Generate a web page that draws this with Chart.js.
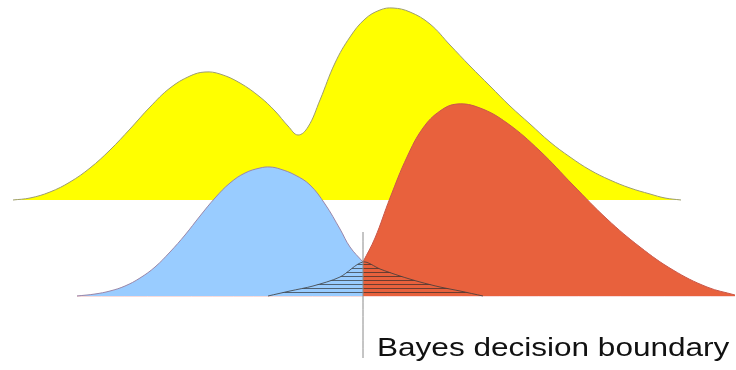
<!DOCTYPE html>
<html>
<head>
<meta charset="UTF-8">
<title>Bayes decision boundary</title>
<script src="https://cdn.jsdelivr.net/npm/chart.js"></script>
<style>
  body { margin: 0; background: #fff; }
  #wrap { position: relative; width: 736px; height: 370px; }
  #label {
    position: absolute; left: 377px; top: 334px;
    font-family: "Liberation Sans", Arial, sans-serif;
    font-size: 26.5px; color: #111; white-space: nowrap; line-height: 1;
    transform: scaleX(1.19); transform-origin: 0 0;
  }
</style>
</head>
<body>
<div id="wrap">
  <canvas id="chart" width="736" height="370"></canvas>
  <div id="label">Bayes decision boundary</div>
</div>
<script>
// total density (top curve), heights above its own baseline
const totalX = [13, 30, 50, 70, 90, 110, 130, 150, 170, 190, 205, 220, 240, 260, 275, 288, 298, 308, 320, 335, 350, 365, 380, 393, 410, 430, 450, 470, 490, 510, 530, 550, 570, 590, 610, 630, 650, 665, 681];
const totalY = [0, 2, 8, 18, 32, 50, 71, 93, 112, 124, 128, 126, 117, 103, 89, 74, 65, 73, 100, 137, 163, 181, 190, 192, 188, 176, 155, 134, 114, 94, 76, 58, 43, 30, 20, 12, 6, 2, 0];

// class A (blue), including the tail under class B
const blueX = [77, 95, 110, 125, 140, 155, 170, 185, 200, 215, 230, 245, 260, 270, 280, 295, 310, 325, 340, 350, 363, 380, 400, 420, 440, 460, 483];
const blueY = [0, 2, 5, 10, 18, 29, 44, 61, 80, 98, 113, 123, 128, 129, 127, 121, 111, 92, 67, 49, 34, 27, 20, 14, 9, 5, 0];

// class B (red), including the tail under class A
const redX = [268, 290, 313, 340, 363, 375, 390, 407, 423, 440, 457, 480, 507, 540, 573, 607, 640, 673, 707, 735];
const redY = [0, 5, 10, 19, 34, 58, 98, 139, 168, 185, 192, 188, 173, 145, 111, 77, 49, 26, 9, 1];

const boundaryX = 363;
const boundaryY = [64, -62];

const topBase = 96;

const pts = (xs, ys, off = 0) => xs.map((x, i) => ({ x: x, y: ys[i] + off }));
const blue = pts(blueX, blueY);
const red = pts(redX, redY);
const blueShown = blue.filter(p => p.x <= boundaryX);
const redShown = red.filter(p => p.x >= boundaryX);
const overlap = red.filter(p => p.x < boundaryX).concat(blue.filter(p => p.x >= boundaryX));

// horizontal hatch for the error area
const tile = document.createElement('canvas');
tile.width = 8; tile.height = 4;
const tctx = tile.getContext('2d');
tctx.fillStyle = 'rgba(40,40,40,0.65)';
tctx.fillRect(0, 0, 8, 1);
const hatch = document.getElementById('chart').getContext('2d').createPattern(tile, 'repeat');

new Chart(document.getElementById('chart'), {
  type: 'line',
  data: {
    datasets: [
      {
        order: 0,
        data: boundaryY.map(y => ({ x: boundaryX, y: y })),
        borderColor: '#8a8a8a', borderWidth: 1, fill: false
      },
      {
        order: 1,
        data: overlap,
        borderColor: 'rgba(60,60,60,0.8)', borderWidth: 1,
        backgroundColor: hatch, fill: 'origin', tension: 0.3
      },
      {
        order: 2,
        data: redShown,
        borderColor: '#c9574a', borderWidth: 1,
        backgroundColor: '#e8613d', fill: 'origin'
      },
      {
        order: 3,
        data: blueShown,
        borderColor: '#9a86a8', borderWidth: 1,
        backgroundColor: '#99ccff', fill: 'origin'
      },
      {
        order: 4,
        data: [{ x: blueX[0], y: 0 }, { x: redX[redX.length - 1], y: 0 }],
        borderColor: '#f2b8b8', borderWidth: 1, fill: false
      },
      {
        order: 5,
        data: pts(totalX, totalY, topBase),
        borderColor: '#9c9c70', borderWidth: 1,
        backgroundColor: '#ffff00', fill: { value: topBase }
      }
    ]
  },
  options: {
    responsive: false,
    animation: false,
    layout: { padding: 0 },
    elements: { point: { radius: 0 }, line: { tension: 0.4 } },
    scales: {
      x: { type: 'linear', min: 0, max: 736, display: false },
      y: { min: -74, max: 296, display: false }
    },
    plugins: { legend: { display: false }, tooltip: { enabled: false } }
  }
});
</script>
</body>
</html>
